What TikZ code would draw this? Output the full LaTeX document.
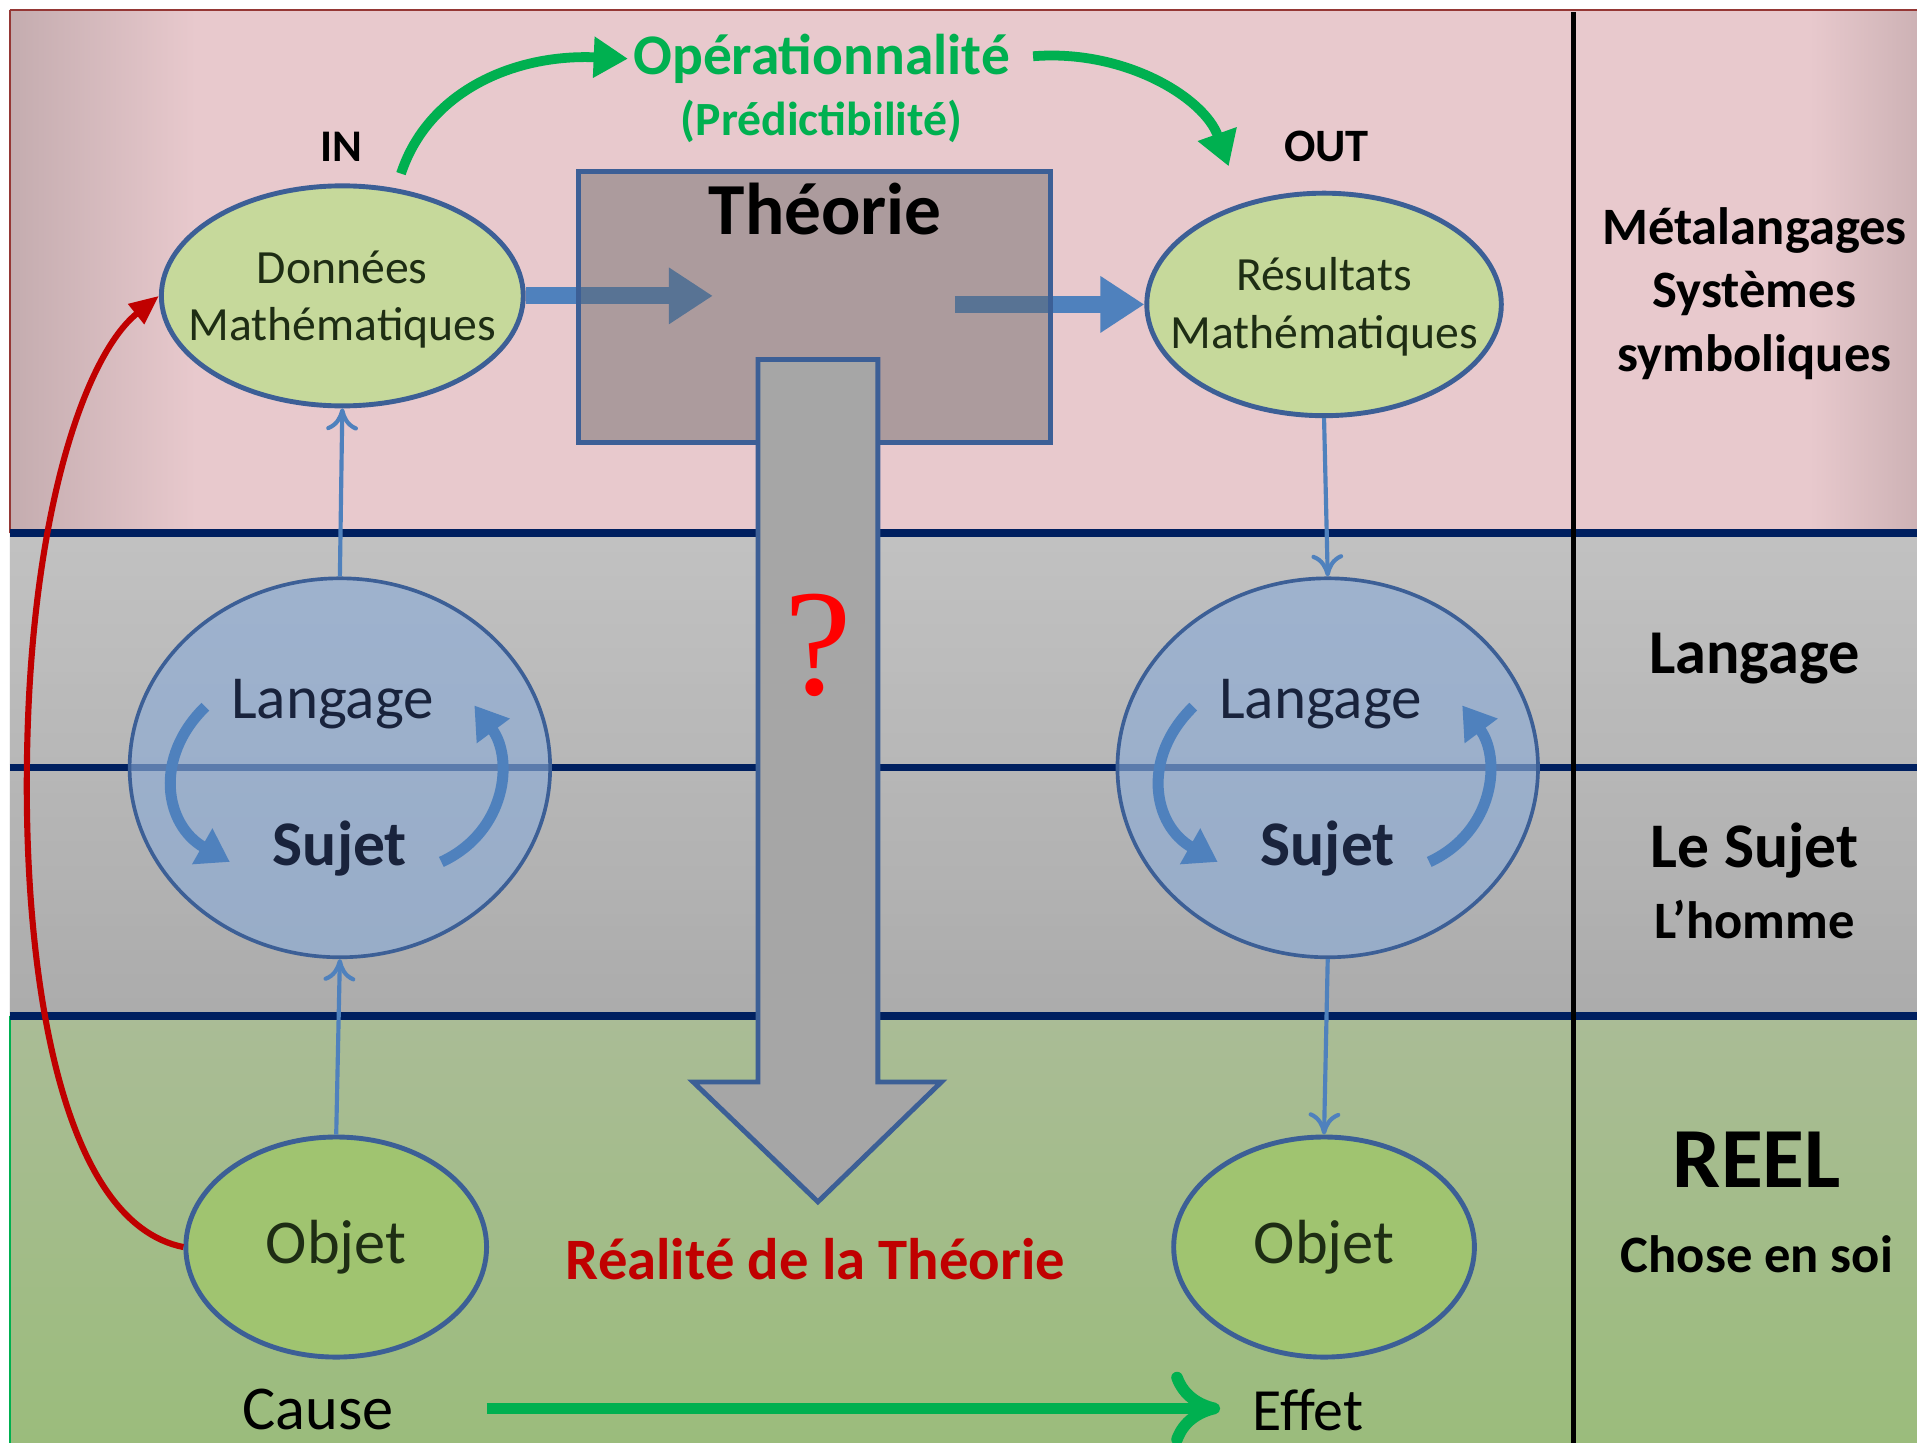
\documentclass[tikz,border=0pt]{standalone}
\usepackage{fontspec}
\setmainfont{Carlito}
\newfontfamily\qfont{Liberation Serif}
\usetikzlibrary{shapes.geometric,arrows.meta}
\definecolor{pinkL}{RGB}{196,172,175}
\definecolor{pinkM}{RGB}{232,201,205}
\definecolor{pinkR}{RGB}{205,178,181}
\definecolor{grayT}{RGB}{222,222,222}
\definecolor{grayBt}{RGB}{182,182,182}
\definecolor{grayE}{RGB}{160,160,160}
\definecolor{greenT}{RGB}{170,188,150}
\definecolor{greenB}{RGB}{155,188,124}
\definecolor{navyline}{RGB}{0,32,96}
\definecolor{ellblue}{RGB}{60,95,150}
\definecolor{arrblue}{RGB}{79,129,189}
\definecolor{lgreen}{RGB}{198,217,155}
\definecolor{ogreen}{RGB}{160,196,112}
\definecolor{lblue}{RGB}{141,172,214}
\definecolor{brightgreen}{RGB}{0,176,80}
\definecolor{darkred}{RGB}{192,0,0}
\definecolor{framered}{RGB}{149,55,53}
\definecolor{txtgreen}{RGB}{30,45,20}
\definecolor{txtnavy}{RGB}{25,35,60}
\definecolor{boxgray}{RGB}{100,100,100}
\definecolor{bigarrgray}{RGB}{166,166,166}
\newcommand\fsz[2]{\fontsize{#1pt}{#2pt}\selectfont}
\begin{document}
\begin{tikzpicture}[x=0.5pt,y=-0.5pt,
  ell/.style={ellipse, draw=ellblue, line width=2pt, inner sep=0pt},
  suj/.style={ell, line width=1.5pt, fill=lblue, fill opacity=0.65, minimum width=172pt, minimum height=155pt},
  obj/.style={ell, fill=ogreen, minimum width=123pt, minimum height=90pt},
  dat/.style={ell, fill=lgreen, minimum height=90pt},
  dattxt/.style={text=txtgreen, align=center, font=\fsz{19.5}{23.5}},
  objtxt/.style={font=\fsz{25.5}{30}, text=txtgreen},
  thinarr/.style={draw=arrblue, line width=1.7pt, -{Computer Modern Rightarrow[length=9pt,width=13pt]}},
  thickarr/.style={draw=arrblue, line width=7pt, -{Triangle[length=18pt,width=22pt]}},
  cyc/.style={draw=arrblue, line width=4.5pt, -{Triangle[length=13pt,width=16pt]}},
  grarr/.style={draw=brightgreen, line width=4pt, -{Triangle[length=14pt,width=16pt]}},
  righttxt/.style={font=\bfseries\fsz{21.5}{26}, align=center},
  navy/.style={draw=navyline, line width=3pt}
]
\useasboundingbox (0,0) rectangle (1568,1180);
\fill[white] (0,0) rectangle (1568,1180);
% backgrounds
\fill[pinkM] (8,8) rectangle (1568,436);
\shade[left color=pinkL, right color=pinkM] (8,8) rectangle (160,436);
\shade[left color=pinkM, right color=pinkR] (1480,8) rectangle (1568,436);
\shade[top color=grayT, bottom color=grayBt] (8,436) rectangle (1568,831);
\shade[left color=grayE, middle color=grayT, right color=grayE, fill opacity=0.45] (8,436) rectangle (1568,831);
\shade[top color=greenT, bottom color=greenB] (8,831) rectangle (1568,1180);
% frame
\draw[framered, line width=1pt] (8,8) -- (1568,8);
\draw[framered, line width=1pt] (8,8) -- (8,436);
\draw[brightgreen, line width=1pt] (8,831) -- (8,1180);
% separators
\draw[navy] (8,436) -- (1568,436);
\draw[navy] (8,628) -- (1568,628);
\draw[navy] (8,831) -- (1568,831);
\draw[black, line width=2pt] (1287,10) -- (1287,1180);

% data ellipses
\node[dat, minimum width=148pt] (don) at (280,242) {};
\node[dat, minimum width=145pt, minimum height=91pt] (res) at (1083,249) {};
\node[dattxt] (dontxt) at (280,245) {Données\\Mathématiques};
\node[dattxt] (restxt) at (1083,251) {Résultats\\Mathématiques};

% thick arrows
\coordinate (ta1) at (583,242);
\coordinate (ta2s) at (781,249);
\draw[thickarr] (don.east) -- (ta1);
\draw[thickarr] (ta2s) -- (res.west);

% theory box
\node[draw=ellblue, line width=2pt, fill=boxgray, fill opacity=0.45, minimum width=193pt, minimum height=111pt, inner sep=0pt] (theo) at (666,251) {};
\node[font=\bfseries\fsz{30}{36}] (theolbl) at (675,171) {Théorie};

% big gray arrow
\draw[draw=ellblue, line width=2pt, fill=bigarrgray, line join=miter] (620,294) -- (718,294) -- (718,885) -- (770,885) -- (669,983) -- (567,885) -- (620,885) -- cycle;
\node[text=red, font=\qfont\fsz{62}{64}] (qm) at (669,528) {?};

% subject ellipses
\node[suj] (sujL) at (278,628) {};
\node[suj] (sujR) at (1086,628) {};
\draw[cyc] (168,578) .. controls (125,620) and (135,675) .. (188,705);
\draw[cyc] (361,705) .. controls (415,680) and (420,620) .. (388,577);
\draw[cyc] (976,578) .. controls (933,620) and (943,675) .. (996,705);
\draw[cyc] (1169,705) .. controls (1223,680) and (1228,620) .. (1196,577);
\node[text=txtnavy, font=\fsz{25}{30}] (lgL) at (272,576) {Langage};
\node[text=txtnavy, font=\bfseries\fsz{26}{30}] (sjL) at (278,694) {Sujet};
\node[text=txtnavy, font=\fsz{25}{30}] (lgR) at (1080,576) {Langage};
\node[text=txtnavy, font=\bfseries\fsz{26}{30}] (sjR) at (1086,694) {Sujet};

% object ellipses
\node[obj] (objL) at (275,1020) {};
\node[obj] (objR) at (1083,1020) {};
\node[objtxt] (objLt) at (275,1020) {Objet};
\node[objtxt] (objRt) at (1083,1020) {Objet};

% thin arrows
\draw[thinarr] (sujL.north) -- (don.south);
\draw[thinarr] (objL.north) -- (sujL.south);
\draw[thinarr] (res.south) -- (sujR.north);
\draw[thinarr] (sujR.south) -- (objR.north);

% red arrow
\draw[darkred, line width=2.5pt, -{Triangle[length=12pt,width=10pt]}] (objL.west) .. controls (50,1000) and (20,800) .. (22,627) .. controls (24,420) and (70,290) .. (don.west);

% top labels and green arrows
\node[text=brightgreen, font=\bfseries\fsz{23.5}{28}, inner sep=2pt] (oper) at (672,48) {Opérationnalité};
\node[text=brightgreen, font=\bfseries\fsz{19.5}{24}] (pred) at (672,99) {(Prédictibilité)};
\node[font=\bfseries\fsz{18.5}{22}] (in) at (279,120) {IN};
\node[font=\bfseries\fsz{19}{22}] (out) at (1085,120) {OUT};
\coordinate (g1s) at (328,142);
\coordinate (g2s) at (845,46);
\coordinate (g2e) at (1005,136);
\draw[grarr] (g1s) .. controls (350,75) and (420,44) .. (oper.west);
\draw[grarr] (g2s) .. controls (920,40) and (985,80) .. (g2e);

% reality label
\node[text=darkred, font=\bfseries\fsz{24}{28}] (real) at (667,1030) {Réalité de la Théorie};

% cause -> effet
\node[font=\fsz{25.5}{30}] (cause) at (260,1153) {Cause};
\node[font=\fsz{24.5}{30}] (effet) at (1070,1153) {Effet};
\coordinate (cs) at (398,1152);
\coordinate (ce) at (998,1152);
\draw[brightgreen, line width=4.75pt, -{Computer Modern Rightarrow[length=20pt,width=30pt]}] (cs) -- (ce);

% right column
\node[righttxt] (meta) at (1435,240) {Métalangages\\Systèmes\\symboliques};
\node[font=\bfseries\fsz{25.5}{30}] (lang) at (1435,539) {Langage};
\node[font=\bfseries\fsz{26}{30}] (lesujet) at (1435,696) {Le Sujet};
\node[font=\bfseries\fsz{21.5}{26}] (homme) at (1435,752) {L’homme};
\node[font=\bfseries\fsz{35}{40}] (reel) at (1437,949) {REEL};
\node[font=\bfseries\fsz{21.5}{26}] (chose) at (1437,1026) {Chose en soi};
\end{tikzpicture}
\end{document}
